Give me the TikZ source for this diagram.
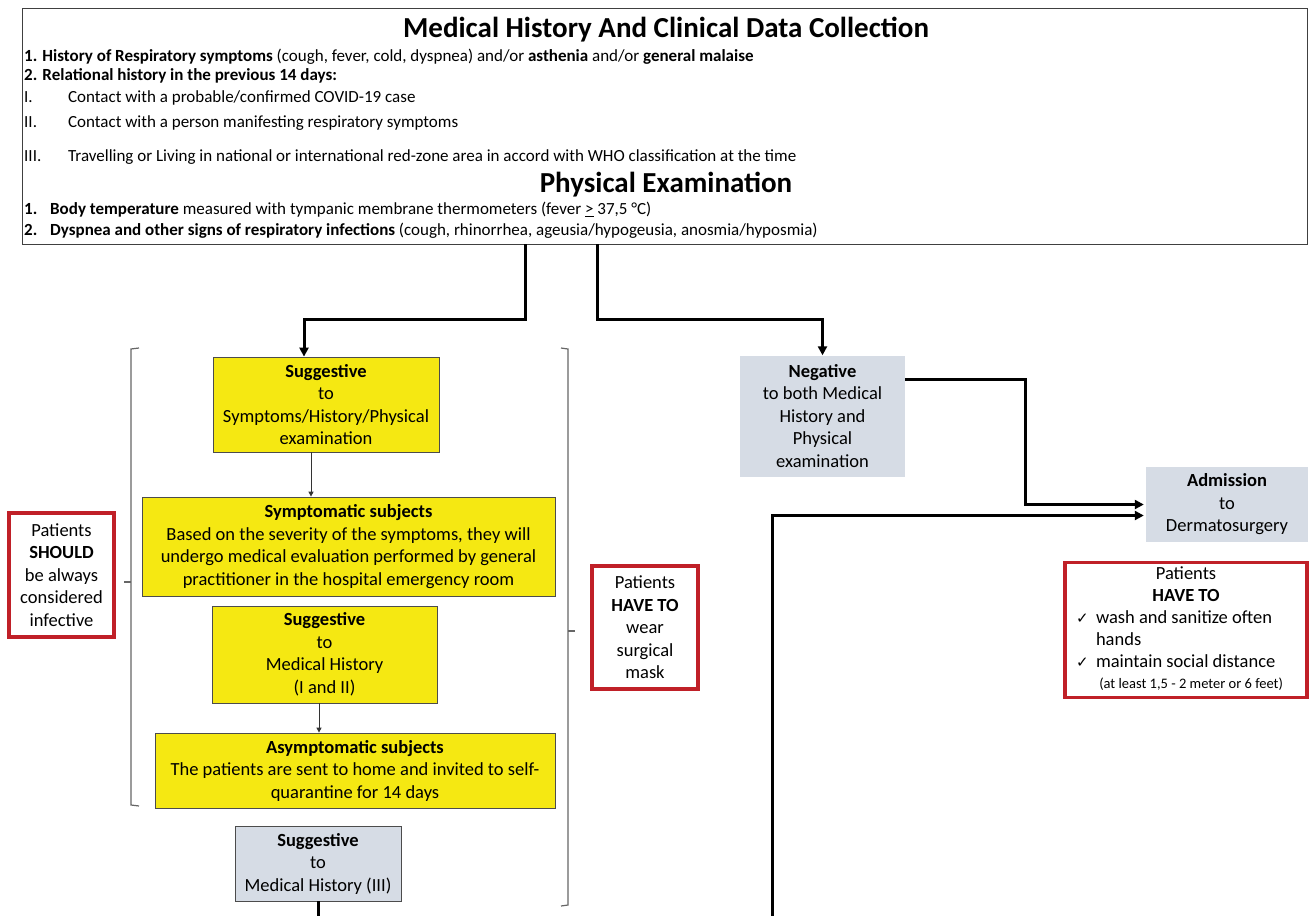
\documentclass[tikz,border=0pt]{standalone}
\usepackage{fontspec}
\setmainfont{Carlito}
\newfontfamily\symfont{DejaVu Sans}
\usetikzlibrary{arrows.meta}
\definecolor{hiyellow}{RGB}{245,232,18}
\definecolor{paleblue}{RGB}{214,220,229}
\definecolor{alertred}{RGB}{192,32,40}
\newcommand{\boxfont}{\fontsize{18.5}{22.5}\selectfont}
\newcommand{\listfont}{\fontsize{17}{19}\selectfont}
\newcommand{\headfont}{\fontsize{29}{33}\selectfont\bfseries}
\newcommand{\tick}{{\symfont\fontsize{15}{16}\selectfont ✓}}

\begin{document}
\begin{tikzpicture}[x=1pt, y=-1pt,
  >={Triangle[length=9pt,width=9pt]},
  panel/.style={draw=black!75, line width=0.8pt, inner sep=0pt},
  listline/.style={anchor=west, inner sep=0pt, font=\listfont},
  yellowbox/.style={draw=black!70, line width=0.8pt, fill=hiyellow, align=center, inner sep=2pt, font=\boxfont},
  greybox/.style={fill=paleblue, align=center, inner sep=2pt, font=\boxfont},
  redbox/.style={draw=alertred, line width=3.5pt, fill=white, align=center, inner sep=2pt, font=\boxfont},
  flow/.style={->, line width=3pt},
  thinflow/.style={-{Triangle[length=5pt,width=5pt]}, line width=1pt, black!80},
  bracket/.style={draw=black!60, line width=1.2pt}]
\useasboundingbox (0,0) rectangle (1310,916);

% history and examination panel
\node[panel, minimum width=1285pt, minimum height=236pt] (hist) at (664.5,126) {};
\node[font=\headfont] (histtitle) at (666,30) {Medical History And Clinical Data Collection};
\node[listline] (h1) at (24,57) {\textbf{1. History of Respiratory symptoms} (cough, fever, cold, dyspnea) and/or \textbf{asthenia} and/or \textbf{general malaise}};
\node[listline] (h2) at (24,76) {\textbf{2. Relational history in the previous 14 days:}};
\node[listline] (h3) at (24,98) {\makebox[44pt][l]{I.}Contact with a probable/confirmed COVID-19 case};
\node[listline] (h4) at (24,123) {\makebox[44pt][l]{II.}Contact with a person manifesting respiratory symptoms};
\node[listline] (h5) at (24,157) {\makebox[44pt][l]{III.}Travelling or Living in national or international red-zone area in accord with WHO classification at the time};
\node[font=\headfont] (examtitle) at (666,185) {Physical Examination};
\node[listline] (e1) at (24,210) {\makebox[26pt][l]{\textbf{1.}}\textbf{Body temperature} measured with tympanic membrane thermometers (fever \underline{>} 37,5 °C)};
\node[listline] (e2) at (24,231) {\makebox[26pt][l]{\textbf{2.}}\textbf{Dyspnea and other signs of respiratory infections} (cough, rhinorrhea, ageusia/hypogeusia, anosmia/hyposmia)};

% suggestive branch
\node[yellowbox, minimum width=226pt, minimum height=95pt] (sugA) at (326,404.5) {\textbf{Suggestive}\\to\\Symptoms/History/Physical\\examination};
\node[yellowbox, minimum width=413pt, minimum height=99pt] (symp) at (348.5,546.5) {\textbf{Symptomatic subjects}\\Based on the severity of the symptoms, they will\\undergo medical evaluation performed by general\\practitioner in the hospital emergency room};
\node[yellowbox, minimum width=225pt, minimum height=97pt] (sugB) at (324.5,654.5) {\textbf{Suggestive}\\to\\Medical History\\(I and II)};
\node[yellowbox, minimum width=400pt, minimum height=75pt] (asym) at (355,770.5) {\textbf{Asymptomatic subjects}\\The patients are sent to home and invited to self-\\quarantine for 14 days};
\node[greybox, draw=black!70, line width=0.8pt, minimum width=166pt, minimum height=75pt] (sugC) at (318,863.5) {\textbf{Suggestive}\\to\\Medical History (III)};

% negative branch
\node[greybox, minimum width=165pt, minimum height=121pt] (neg) at (822.5,416) {\textbf{Negative}\\to both Medical\\History and\\Physical\\examination};
\node[greybox, minimum width=162pt, minimum height=75pt] (adm) at (1227,504.5) {\textbf{Admission}\\to\\Dermatosurgery};

% warnings
\node[redbox, minimum width=105pt, minimum height=124pt] (warnL) at (61.5,575) {Patients\\\textbf{SHOULD}\\be always\\considered\\infective};
\node[redbox, minimum width=106pt, minimum height=123pt] (warnM) at (645,627.5) {Patients\\\textbf{HAVE TO}\\wear\\surgical\\mask};
\node[redbox, minimum width=242pt, minimum height=130pt] (warnR) at (1186,630) {%
  \renewcommand{\arraystretch}{0.97}%
  \begin{tabular}{@{}p{14pt}@{\hspace{6pt}}p{200pt}@{}}
  \multicolumn{2}{c}{Patients}\\
  \multicolumn{2}{c}{\textbf{HAVE TO}}\\
  \tick & wash and sanitize often\\
  & hands\\
  \tick & maintain social distance\\
  & \fontsize{14.5}{16}\selectfont\ (at least 1,5 - 2 meter or 6 feet)
  \end{tabular}};

% brackets
\draw[bracket] (139,348) -- (131,349) -- (131,805) -- (139,806);
\draw[bracket] (131,582) -- (124,582);
\draw[bracket] (561,348) -- (568,349) -- (568,905) -- (561,906);
\draw[bracket] (568,631) -- (575,631);

% connectors
\coordinate (outL) at (525,244);
\coordinate (outR) at (597,244);
\coordinate (outB) at (318,916);
\coordinate (inB) at (772,916);
\draw[flow] (outL) -- ++(0,75) -| ([xshift=-22pt]sugA.north);
\draw[flow] (outR) -- ++(0,75) -| (neg.north);
\draw[thinflow] ([xshift=-15pt]sugA.south) -- ([xshift=-15pt]sugA.south |- symp.north);
\draw[thinflow] ([xshift=-5.5pt]sugB.south) -- ([xshift=-5.5pt]sugB.south |- asym.north);
\draw[line width=3pt] (sugC.south) -- (outB);
\draw[flow] ([yshift=-24pt]neg.north east) -- ++(120,0) |- ([xshift=-2pt]adm.west);
\draw[flow] (inB) |- ([xshift=-2pt,yshift=-11pt]adm.west);
\end{tikzpicture}
\end{document}
